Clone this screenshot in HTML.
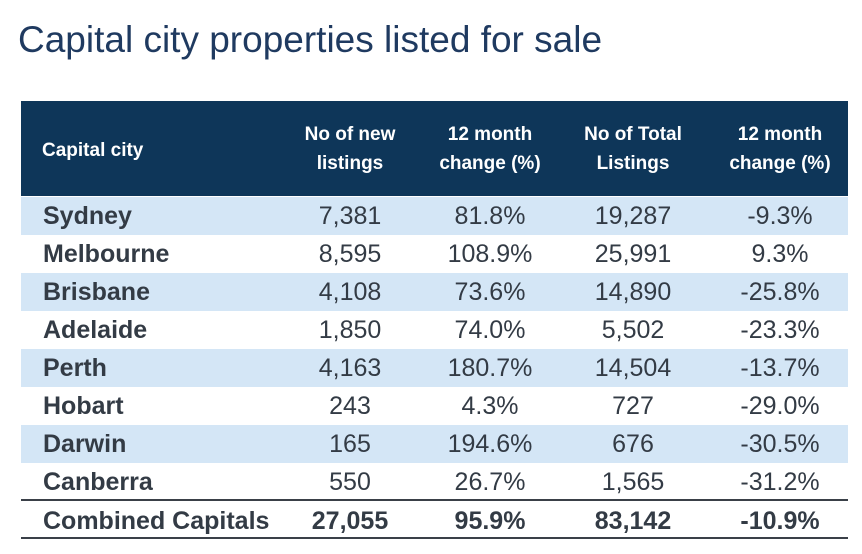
<!DOCTYPE html>
<html><head><meta charset="utf-8"><style>
body{margin:0;width:862px;height:554px;background:#fff;position:relative;overflow:hidden;font-family:"Liberation Sans",sans-serif;}
#title{position:absolute;left:18px;top:19px;font-size:37px;color:#1f3a60;white-space:nowrap;}
.hdr{position:absolute;left:21px;top:101px;width:827px;height:95px;background:#0e3659;}
.h{position:absolute;color:#fff;font-weight:bold;font-size:19px;line-height:29px;text-align:center;width:150px;}
.row{position:absolute;left:21px;width:827px;height:38px;}
.c{position:absolute;font-size:25px;color:#333b45;line-height:38px;top:0;white-space:nowrap;}
.name{left:22px;font-weight:bold;}
.num{width:150px;text-align:center;}
.line{position:absolute;left:21px;width:827px;height:2px;background:#3a4048;}
</style></head><body>
<div id="title">Capital city properties listed for sale</div>
<div class="hdr">
<div class="h" style="width:auto;left:21px;top:35px">Capital city</div>
<div class="h" style="left:254px;top:19px">No of new<br>listings</div>
<div class="h" style="left:394px;top:19px">12 month<br>change (%)</div>
<div class="h" style="left:537px;top:19px">No of Total<br>Listings</div>
<div class="h" style="left:684px;top:19px">12 month<br>change (%)</div>
</div>
<div id="rows"></div>
<script>
const cities=["Sydney","Melbourne","Brisbane","Adelaide","Perth","Hobart","Darwin","Canberra","Combined Capitals"];
const newListings=["7,381","8,595","4,108","1,850","4,163","243","165","550","27,055"];
const newChange=["81.8%","108.9%","73.6%","74.0%","180.7%","4.3%","194.6%","26.7%","95.9%"];
const totalListings=["19,287","25,991","14,890","5,502","14,504","727","676","1,565","83,142"];
const totalChange=["-9.3%","9.3%","-25.8%","-23.3%","-13.7%","-29.0%","-30.5%","-31.2%","-10.9%"];
const colLeft=[254,394,537,684];
const host=document.getElementById('rows');
cities.forEach((c,i)=>{
  const r=document.createElement('div');
  r.className='row';
  
  
  const top=197+i*38+(i===8?1:0);
  r.style.top=top+'px';
  if(i<8&&i%2===0)r.style.background='#d4e6f6';
  const n=document.createElement('div');
  n.className='c name';n.textContent=c;
  
  
  r.appendChild(n);
  [newListings[i],newChange[i],totalListings[i],totalChange[i]].forEach((v,j)=>{
    const d=document.createElement('div');
    d.className='c num';d.style.left=colLeft[j]+'px';d.textContent=v;
    if(i===8)d.style.fontWeight='bold';
    
    
    r.appendChild(d);
  });
  host.appendChild(r);
});
</script>
<div class="line" style="top:499px"></div>
<div class="line" style="top:537px"></div>
</body></html>
